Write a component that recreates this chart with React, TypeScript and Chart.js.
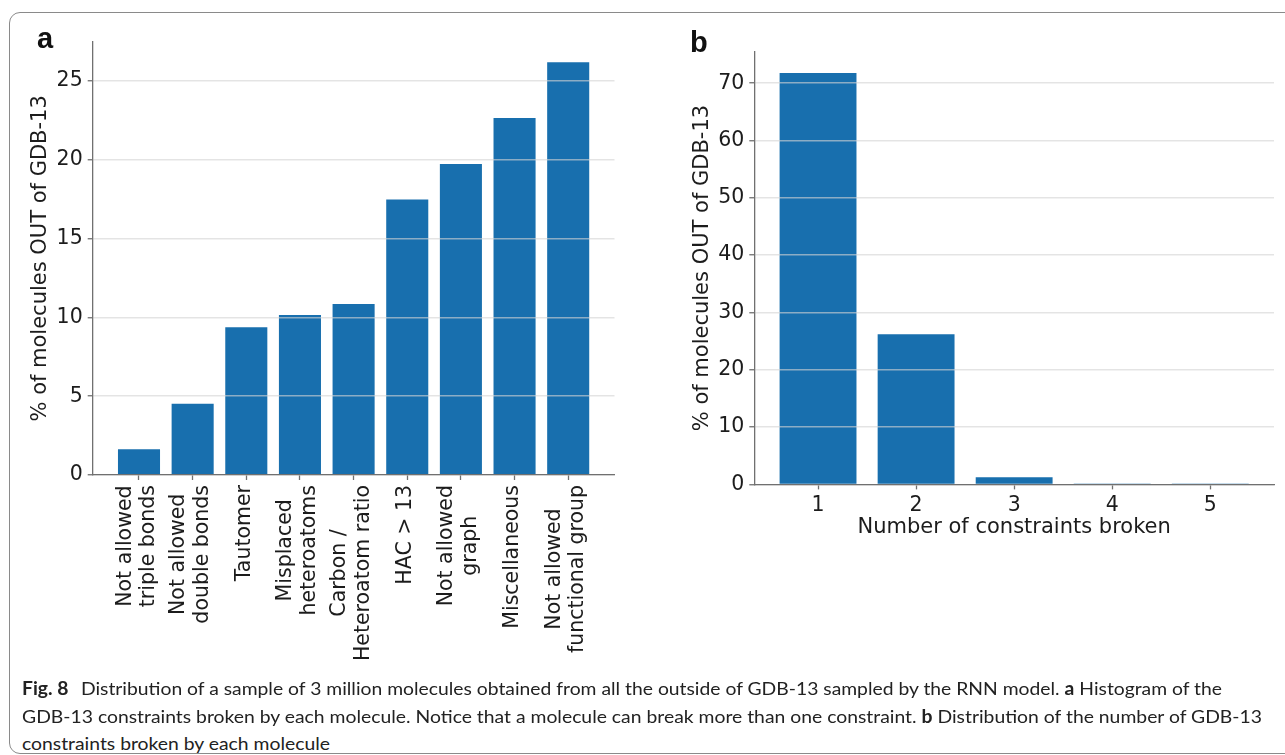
import React, { useEffect, useLayoutEffect, useRef } from 'react';
import { Chart, registerables } from 'chart.js';

Chart.register(...registerables);

// ---------- data ----------
const constraintLabels: string[][] = [
  ['Not allowed', 'triple bonds'],
  ['Not allowed', 'double bonds'],
  ['Tautomer'],
  ['Misplaced', 'heteroatoms'],
  ['Carbon /', 'Heteroatom ratio'],
  ['HAC > 13'],
  ['Not allowed', 'graph'],
  ['Miscellaneous'],
  ['Not allowed', 'functional group'],
];
const constraintPercents = [1.63, 4.52, 9.37, 10.16, 10.86, 17.49, 19.74, 22.65, 26.19];

const brokenCounts = [1, 2, 3, 4, 5];
const brokenPercents = [71.8, 26.2, 1.24, 0.04, 0.01];

const yTicksA = [0, 5, 10, 15, 20, 25];
const yTicksB = [0, 10, 20, 30, 40, 50, 60, 70];

const yTitle = '% of molecules OUT of GDB-13';
const xTitleB = 'Number of constraints broken';

// ---------- style ----------
const BAR = '#186fae';
const GRID = 'rgba(212,212,212,0.62)';
const SPINE = '#707070';
const TEXT = '#1c1c1c';
const FONT = "'DejaVu Sans', sans-serif";
const TICK_SIZE = 20.5;
const TITLE_SIZE = 21;

const verticalLabelsPlugin = {
  id: 'verticalLabels',
  afterDraw(chart: any) {
    const scale = chart.scales.x;
    const ctx = chart.ctx as CanvasRenderingContext2D;
    const lh = TICK_SIZE * 1.15;
    ctx.save();
    ctx.font = `${TICK_SIZE}px ${FONT}`;
    ctx.fillStyle = TEXT;
    ctx.textAlign = 'center';
    ctx.textBaseline = 'middle';
    constraintLabels.forEach((lines, i) => {
      const px = scale.getPixelForValue(i);
      const maxW = Math.max(...lines.map((l) => ctx.measureText(l).width));
      const yc = scale.top + 5 + 5 + maxW / 2;
      lines.forEach((line, j) => {
        const x = px + (j - (lines.length - 1) / 2) * lh - 2;
        ctx.save();
        ctx.translate(x, yc);
        ctx.rotate(-Math.PI / 2);
        ctx.fillText(line, 0, 0);
        ctx.restore();
      });
    });
    ctx.restore();
  },
};

function ChartA() {
  const ref = useRef<HTMLCanvasElement>(null);
  useEffect(() => {
    const chart = new Chart(ref.current!, {
      type: 'bar',
      data: {
        datasets: [
          {
            data: constraintPercents.map((v, i) => ({ x: i, y: v })),
            backgroundColor: BAR,
            borderWidth: 0,
            categoryPercentage: 0.8,
            barPercentage: 0.98,
          },
        ],
      },
      options: {
        responsive: false,
        animation: false,
        layout: { padding: { left: 0, top: 41.7, right: 45.5, bottom: 0 } },
        plugins: { legend: { display: false }, tooltip: { enabled: false } },
        scales: {
          x: {
            type: 'linear',
            offset: false,
            min: -0.863,
            max: 8.863,
            afterBuildTicks: (s: any) => {
              s.ticks = constraintLabels.map((_, i) => ({ value: i }));
            },
            afterFit: (s: any) => {
              s.height = 205;
            },
            ticks: { display: false },
            grid: {
              display: true,
              offset: false,
              drawOnChartArea: false,
              drawTicks: true,
              tickLength: 5,
              tickColor: SPINE,
              tickWidth: 1.3,
              color: SPINE,
            },
            border: { display: true, color: SPINE, width: 1.3, z: 2 },
          },
          y: {
            min: 0,
            max: 27.5,
            afterBuildTicks: (s: any) => {
              s.ticks = yTicksA.map((v) => ({ value: v }));
            },
            afterFit: (s: any) => {
              s.width = 92.7;
            },
            ticks: { font: { family: FONT, size: TICK_SIZE }, color: TEXT, padding: 5 },
            grid: {
              color: GRID,
              lineWidth: 1.5,
              z: 1,
              tickLength: 5,
              tickColor: SPINE,
              tickWidth: 1.3,
            },
            border: { color: SPINE, width: 1.3, z: 2 },
            title: {
              display: true,
              text: yTitle,
              font: { family: FONT, size: TITLE_SIZE },
              color: TEXT,
              padding: { top: 27.5, bottom: 0 },
            },
          },
        },
      } as any,
      plugins: [verticalLabelsPlugin],
    });
    return () => chart.destroy();
  }, []);
  return (
    <canvas
      ref={ref}
      width={660}
      height={680}
      style={{ position: 'absolute', left: 0, top: 0, width: 660, height: 680 }}
    />
  );
}

function ChartB() {
  const ref = useRef<HTMLCanvasElement>(null);
  useEffect(() => {
    const chart = new Chart(ref.current!, {
      type: 'bar',
      data: {
        datasets: [
          {
            data: brokenPercents.map((v, i) => ({ x: brokenCounts[i], y: v })),
            backgroundColor: BAR,
            borderWidth: 0,
            categoryPercentage: 0.8,
            barPercentage: 0.98,
          },
        ],
      },
      options: {
        responsive: false,
        animation: false,
        layout: { padding: { left: 0, top: 51.7, right: 11, bottom: 0 } },
        plugins: { legend: { display: false }, tooltip: { enabled: false } },
        scales: {
          x: {
            type: 'linear',
            offset: false,
            min: 0.35,
            max: 5.65,
            afterBuildTicks: (s: any) => {
              s.ticks = brokenCounts.map((v) => ({ value: v }));
            },
            afterFit: (s: any) => {
              s.height = 75.6;
            },
            ticks: {
              font: { family: FONT, size: TICK_SIZE },
              color: TEXT,
              padding: 4,
              maxRotation: 0,
              autoSkip: false,
            },
            grid: {
              display: true,
              offset: false,
              drawOnChartArea: false,
              drawTicks: true,
              tickLength: 5,
              tickColor: SPINE,
              tickWidth: 1.3,
              color: SPINE,
            },
            border: { display: true, color: SPINE, width: 1.3, z: 2 },
            title: {
              display: true,
              text: xTitleB,
              font: { family: FONT, size: TITLE_SIZE },
              color: TEXT,
              padding: { top: 0, bottom: 20 },
            },
          },
          y: {
            min: 0,
            max: 75.5,
            afterBuildTicks: (s: any) => {
              s.ticks = yTicksB.map((v) => ({ value: v }));
            },
            afterFit: (s: any) => {
              s.width = 94.3;
            },
            ticks: { font: { family: FONT, size: TICK_SIZE }, color: TEXT, padding: 5 },
            grid: {
              color: GRID,
              lineWidth: 1.5,
              z: 1,
              tickLength: 5,
              tickColor: SPINE,
              tickWidth: 1.3,
            },
            border: { color: SPINE, width: 1.3, z: 2 },
            title: {
              display: true,
              text: yTitle,
              font: { family: FONT, size: TITLE_SIZE },
              color: TEXT,
              padding: { top: 30.3, bottom: 0 },
            },
          },
        },
      } as any,
    });
    return () => chart.destroy();
  }, []);
  return (
    <canvas
      ref={ref}
      width={625}
      height={560}
      style={{ position: 'absolute', left: 660, top: 0, width: 625, height: 560 }}
    />
  );
}

const CAPTION_FONT = "Lato, 'Open Sans', sans-serif";
const captionTargets = [1200, 1240, 308];

function Caption() {
  const refs = [useRef<HTMLDivElement>(null), useRef<HTMLDivElement>(null), useRef<HTMLDivElement>(null)];
  useLayoutEffect(() => {
    refs.forEach((r, i) => {
      const el = r.current;
      if (!el) return;
      el.style.transform = 'none';
      const w = el.getBoundingClientRect().width;
      if (w > 0) el.style.transform = `scaleX(${captionTargets[i] / w})`;
    });
  }, []);
  const lineStyle = (top: number): React.CSSProperties => ({
    position: 'absolute',
    left: 22,
    top,
    whiteSpace: 'nowrap',
    fontFamily: CAPTION_FONT,
    fontSize: 18,
    lineHeight: '18px',
    color: '#222',
    transformOrigin: 'left top',
    display: 'inline-block',
  });
  return (
    <>
      <div ref={refs[0]} style={lineStyle(679)}>
        <b style={{ marginRight: 7 }}>Fig. 8</b> Distribution of a sample of 3 million molecules obtained from all
        the outside of GDB-13 sampled by the RNN model. <b>a</b> Histogram of the
      </div>
      <div ref={refs[1]} style={lineStyle(707)}>
        GDB-13 constraints broken by each molecule. Notice that a molecule can break more than one constraint.{' '}
        <b>b</b> Distribution of the number of GDB-13
      </div>
      <div ref={refs[2]} style={lineStyle(734)}>
        constraints broken by each molecule
      </div>
    </>
  );
}

export default function App() {
  const panelLabel = (left: number, top: number): React.CSSProperties => ({
    position: 'absolute',
    left,
    top,
    fontFamily: "'Liberation Sans', Arial, sans-serif",
    fontWeight: 700,
    fontSize: 29,
    lineHeight: '29px',
    color: '#111',
  });
  return (
    <div
      style={{
        position: 'absolute',
        left: 0,
        top: 0,
        width: 1285,
        height: 755,
        overflow: 'hidden',
        background: '#fff',
      }}
    >
      <div
        style={{
          position: 'absolute',
          left: 9,
          top: 12,
          width: 1320,
          height: 742,
          boxSizing: 'border-box',
          border: '1.5px solid #8a8a8a',
          borderRadius: 11,
        }}
      />
      <ChartA />
      <ChartB />
      <div style={panelLabel(37, 23.5)}>a</div>
      <div style={panelLabel(690, 27.8)}>b</div>
      <Caption />
    </div>
  );
}
